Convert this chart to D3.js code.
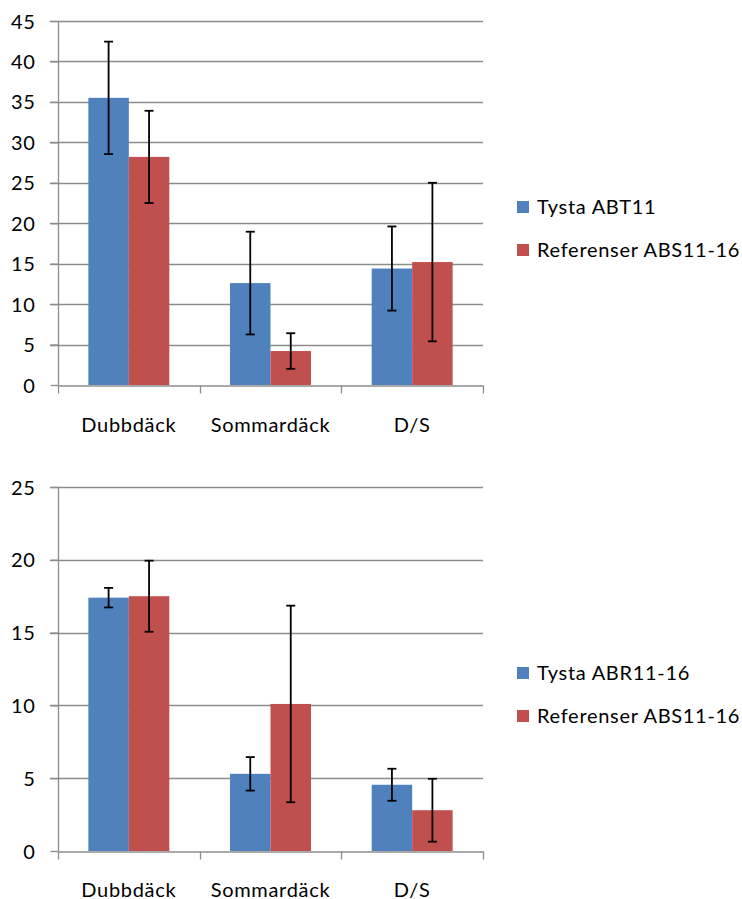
<!DOCTYPE html>
<html><head><meta charset="utf-8">
<script src="https://cdn.jsdelivr.net/npm/d3@7"></script>
<style>body{margin:0;background:#fff}svg{display:block}text{font-family:Lato,"Open Sans",sans-serif;fill:#000;letter-spacing:0.7px}</style>
</head><body>
<svg id="c" width="742" height="899"></svg>
<script>
const categories = ["Dubbdäck", "Sommardäck", "D/S"];
// Chart 1
const c1Series = ["Tysta ABT11", "Referenser ABS11-16"];
const c1Values = [[35.5, 12.6, 14.4], [28.2, 4.2, 15.2]];
const c1Errors = [[6.95, 6.35, 5.2], [5.7, 2.2, 9.8]];
const c1Ticks = [0, 5, 10, 15, 20, 25, 30, 35, 40, 45];
// Chart 2
const c2Series = ["Tysta ABR11-16", "Referenser ABS11-16"];
const c2Values = [[17.4, 5.3, 4.55], [17.5, 10.1, 2.8]];
const c2Errors = [[0.67, 1.15, 1.1], [2.44, 6.75, 2.16]];
const c2Ticks = [0, 5, 10, 15, 20, 25];
const colors = ["#4F81BD", "#C0504D"];

const svg = d3.select("#c");
const FS = "20px";

function drawChart(cfg) {
  const g = svg.append("g");
  const x0 = d3.scaleBand().domain(categories).range([cfg.left, cfg.right]).padding(0);
  const y = d3.scaleLinear().domain([0, cfg.max]).range([cfg.bottom, cfg.top]);
  const bw = x0.bandwidth() / 3.5;
  const x1 = d3.scaleBand().domain([0, 1]).range([0.75 * bw, 2.75 * bw]).padding(0);

  // gridlines
  g.selectAll(".grid").data(cfg.ticks.filter(t => t > 0)).join("line")
    .attr("x1", cfg.left - 8).attr("x2", cfg.right)
    .attr("y1", d => Math.round(y(d)) + 0.5).attr("y2", d => Math.round(y(d)) + 0.5)
    .attr("stroke", "#8c8c8c").attr("stroke-width", 1.3);

  // y axis
  const ya = d3.axisLeft(y).tickValues(cfg.ticks).tickSize(8).tickPadding(8);
  const yg = g.append("g").attr("transform", `translate(${cfg.left + 0.5},0)`).call(ya);
  yg.select(".domain").attr("stroke", "#8c8c8c").attr("stroke-width", 1.3).attr("d", `M0,${cfg.top}V${cfg.bottom}`);
  yg.selectAll(".tick line").attr("stroke", "#8c8c8c").attr("stroke-width", 1.3);
  yg.selectAll(".tick text").style("font-size", FS).attr("dy", "0.35em").attr("x", -23);

  // bars
  cfg.series.forEach((s, si) => {
    g.selectAll(".b" + si).data(categories).join("rect")
      .attr("x", d => x0(d) + x1(si))
      .attr("width", x1.bandwidth())
      .attr("y", (d, i) => y(cfg.values[si][i]))
      .attr("height", (d, i) => y(0) - y(cfg.values[si][i]))
      .attr("fill", colors[si]);
  });

  // x axis
  const xa = d3.axisBottom(x0).tickSize(0).tickPadding(0);
  const xg = g.append("g").attr("transform", `translate(0,${Math.round(y(0)) + 0.5})`).call(xa);
  xg.select(".domain").attr("stroke", "#8c8c8c").attr("stroke-width", 1.3);
  xg.selectAll(".tick text").style("font-size", FS).attr("y", cfg.labelOffset).attr("dy", "0.35em");
  // x ticks at category boundaries
  const bounds = categories.map(c => x0(c)).concat([cfg.right]);
  xg.selectAll(".xt").data(bounds).join("line")
    .attr("x1", d => Math.round(d) + 0.5).attr("x2", d => Math.round(d) + 0.5)
    .attr("y1", 0).attr("y2", 8).attr("stroke", "#8c8c8c").attr("stroke-width", 1.3);

  // error bars
  cfg.series.forEach((s, si) => {
    categories.forEach((c, i) => {
      const cx = x0(c) + x1(si) + x1.bandwidth() / 2;
      const v = cfg.values[si][i], e = cfg.errors[si][i];
      const yt = y(v + e), yb = y(Math.max(0, v - e));
      g.append("line").attr("x1", cx).attr("x2", cx).attr("y1", yt).attr("y2", yb).attr("stroke", "#000").attr("stroke-width", 1.8);
      [yt, yb].forEach(yy => g.append("line").attr("x1", cx - 4.5).attr("x2", cx + 4.5).attr("y1", yy).attr("y2", yy).attr("stroke", "#000").attr("stroke-width", 1.8));
    });
  });

  // legend
  const lg = g.append("g");
  cfg.series.forEach((s, si) => {
    const ly = cfg.legendY + si * 43;
    lg.append("rect").attr("x", 517).attr("y", ly - 6).attr("width", 12).attr("height", 12).attr("fill", colors[si]);
    lg.append("text").attr("x", 537).attr("y", ly).attr("dy", "0.35em").style("font-size", FS).text(s);
  });
}

drawChart({ left: 58, right: 483, top: 21, bottom: 385, max: 45, ticks: c1Ticks, series: c1Series, values: c1Values, errors: c1Errors, legendY: 207, labelOffset: 39 });
drawChart({ left: 58, right: 483, top: 487, bottom: 851, max: 25, ticks: c2Ticks, series: c2Series, values: c2Values, errors: c2Errors, legendY: 673, labelOffset: 38 });
</script>
</body></html>
